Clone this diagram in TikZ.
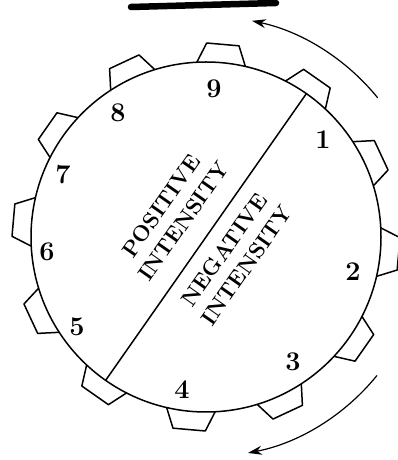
\documentclass[tikz,border=0pt]{standalone}
\usetikzlibrary{arrows.meta}
\begin{document}
\begin{tikzpicture}[x=1pt,y=1pt,
  outline/.style={line width=1.5pt,black},
  num/.style={font=\fontsize{27}{27}\selectfont\bfseries,inner sep=0pt},
  zone/.style={font=\fontsize{22}{27}\selectfont\bfseries,align=center,rotate=55,inner sep=0pt},
  turn/.style={line width=1.2pt,-{Stealth[length=14pt,width=9pt]}}]
\useasboundingbox (0,0) rectangle (397,460);
\draw[line width=6.5pt,line cap=round] (131,453) -- (276,457);
\begin{scope}[shift={(206,223)}]
  \draw[outline] (0,0) circle[radius=175];
  \foreach \a in {25,55,...,355}{
    \draw[outline,line join=round] ({\a-8}:175) -- ({\a-4.8}:194) -- ({\a+4.8}:194) -- ({\a+8}:175);
  }
  \coordinate (d1) at (55:175);
  \coordinate (d2) at (235:175);
  \draw[outline] (d1) -- (d2);
  \node[zone] (pos) at (145:41) {POSITIVE\\INTENSITY};
  \node[zone] (neg) at (-35:36) {NEGATIVE\\INTENSITY};
  \node[num] (n9) at (8,148) {9};
  \node[num] (n8) at (-88,124) {8};
  \node[num] (n7) at (-143,62) {7};
  \node[num] (n6) at (-159,-15) {6};
  \node[num] (n5) at (-129,-90) {5};
  \node[num] (n4) at (-24,-153) {4};
  \node[num] (n3) at (87,-125) {3};
  \node[num] (n2) at (147,-35) {2};
  \node[num] (n1) at (117,97) {1};
  \draw[turn] (39:221) arc[start angle=39, end angle=78, radius=221];
  \draw[turn] (-39:220) arc[start angle=-39, end angle=-79, radius=220];
\end{scope}
\end{tikzpicture}
\end{document}
